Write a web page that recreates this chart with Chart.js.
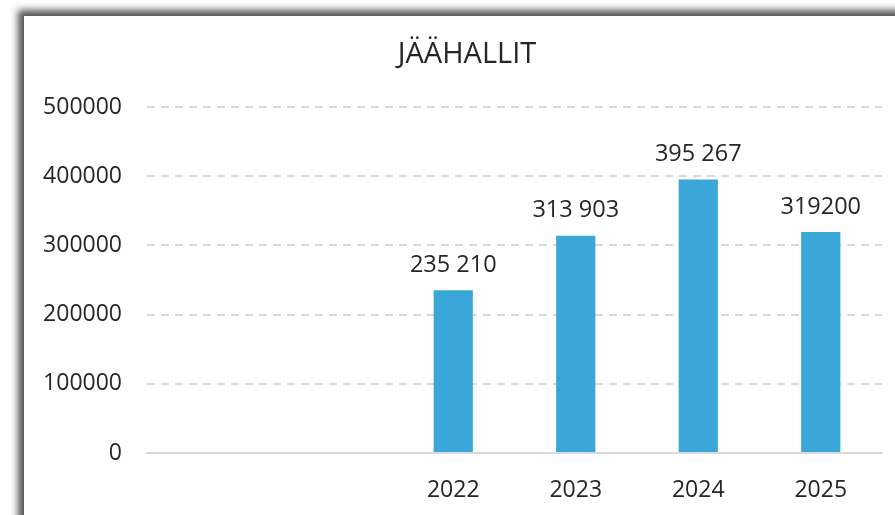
<!DOCTYPE html>
<html>
<head>
<meta charset="utf-8">
<script src="https://cdn.jsdelivr.net/npm/chart.js@4"></script>
<style>
    html, body { margin: 0; padding: 0; background: #fff; overflow: hidden; }
    #frame {
        position: absolute; left: 24px; top: 16px; width: 900px; height: 520px;
        background: #fff; box-shadow: -3px -3px 7px 3px #555;
    }
    #wrap { position: absolute; left: 0; top: 0; width: 895px; height: 515px; }
</style>
</head>
<body>
<div id="frame"></div>
<div id="wrap"><canvas id="chart" width="895" height="515"></canvas></div>
<script>
// Data ==========================
const title = "JÄÄHALLIT";
const years = ["", "", "2022", "2023", "2024", "2025"];
const visitors = [null, null, 235210, 313903, 395267, 319200];
const valueLabels = ["", "", "235 210", "313 903", "395 267", "319200"];
const yTicks = [0, 100000, 200000, 300000, 400000, 500000];

const font = "'Open Sans', sans-serif";
const textColor = "#262626";

// draws title and bar value labels
const extras = {
    id: "extras",
    afterDatasetsDraw(chart) {
        const ctx = chart.ctx;
        ctx.save();
        ctx.fillStyle = textColor;
        ctx.textAlign = "center";
        ctx.textBaseline = "middle";
        ctx.font = "29px " + font;
        ctx.fillText(title, 467, 55);
        ctx.font = "23.5px " + font;
        chart.getDatasetMeta(0).data.forEach((bar, i) => {
            if (visitors[i] == null) return;
            ctx.fillText(valueLabels[i], bar.x, bar.y - 25);
        });
        ctx.restore();
    }
};

const ctx = document.getElementById("chart").getContext("2d");
const chart = new Chart(ctx, {
    type: "bar",
    data: {
        labels: years,
        datasets: [{
            data: visitors,
            backgroundColor: "#3BA6D8",
            barPercentage: 0.32,
            categoryPercentage: 1
        }]
    },
    options: {
        responsive: false,
        animation: false,
        layout: { padding: { top: 107, right: 13, left: 0, bottom: 0 } },
        plugins: { legend: { display: false }, tooltip: { enabled: false } },
        scales: {
            x: {
                afterFit: s => { s.height = 62; },
                grid: { display: false },
                border: { display: true, color: "#d9d9d9", width: 2 },
                ticks: { color: textColor, font: { family: font, size: 23 }, padding: 16 }
            },
            y: {
                min: 0,
                max: 500000,
                afterFit: s => { s.width = 147; },
                afterBuildTicks: s => { s.ticks = yTicks.map(v => ({ value: v })); },
                grid: { color: "#d9d9d9", lineWidth: 2, drawTicks: false },
                border: { display: false, dash: [8, 6] },
                ticks: {
                    color: textColor,
                    font: { family: font, size: 23 },
                    padding: 25,
                    callback: v => String(v)
                }
            }
        }
    },
    plugins: [extras]
});
</script>
</body>
</html>
